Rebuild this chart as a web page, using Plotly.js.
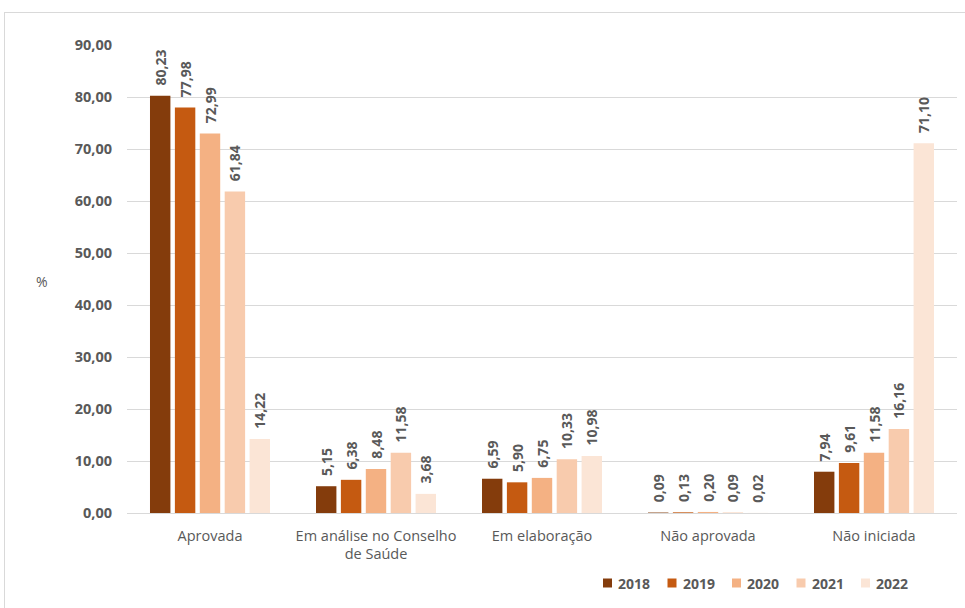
<!DOCTYPE html>
<html><head><meta charset="utf-8">
<script src="https://cdn.plot.ly/plotly-3.0.1.min.js"></script>
<style>
body{margin:0;background:#fff;}
#frame{position:absolute;left:4px;top:12px;width:970px;height:600px;border:1px solid #d9d9d9;box-sizing:border-box;pointer-events:none;z-index:5;}
#chart{position:absolute;left:0;top:0;width:965px;height:608px;}
</style></head>
<body>
<div id="chart"></div>
<div id="frame"></div>
<script>
const categories = ["Aprovada", "Em análise no Conselho<br>de Saúde", "Em elaboração", "Não aprovada", "Não iniciada"];
const years = ["2018", "2019", "2020", "2021", "2022"];
const v2018 = [80.23, 5.15, 6.59, 0.09, 7.94];
const v2019 = [77.98, 6.38, 5.90, 0.13, 9.61];
const v2020 = [72.99, 8.48, 6.75, 0.20, 11.58];
const v2021 = [61.84, 11.58, 10.33, 0.09, 16.16];
const v2022 = [14.22, 3.68, 10.98, 0.02, 71.10];
const colors = ["#843C0C", "#C55A11", "#F4B183", "#F8CBAD", "#FBE5D6"];
const series = [v2018, v2019, v2020, v2021, v2022];

const fontFam = '"Open Sans", "DejaVu Sans", sans-serif';
const W = 965, H = 608, ML = 127, MR = 8, MT = 45, MB = 95;
const PW = W - ML - MR, PH = H - MT - MB;

const traces = series.map((vals, i) => ({
  type: 'bar',
  name: years[i],
  x: categories,
  y: vals,
  marker: {color: colors[i]},
  text: vals.map(v => '\u00a0\u00a0' + v.toFixed(2).replace('.', ',')),
  textposition: 'outside',
  textangle: -90,
  constraintext: 'none',
  textfont: {family: fontFam, size: 14, color: '#595959', weight: 'bold'},
  cliponaxis: false,
  showlegend: false,
  hoverinfo: 'skip'
}));

// custom legend (Excel-like compact spacing)
const legX0 = 603, legStep = 64.5, legY = 583;
const px2x = px => (px - ML) / PW;
const py2y = py => (H - MB - py) / PH;
const shapes = years.map((yr, i) => ({
  type: 'rect', xref: 'paper', yref: 'paper',
  xsizemode: 'pixel', ysizemode: 'pixel',
  xanchor: px2x(legX0 + legStep * i), yanchor: py2y(legY),
  x0: 0, x1: 9, y0: -4.5, y1: 4.5,
  fillcolor: colors[i], line: {width: 0}
}));
const legendAnn = years.map((yr, i) => ({
  text: '<b>' + yr + '</b>', xref: 'paper', yref: 'paper',
  x: px2x(legX0 + legStep * i + 13), y: py2y(legY),
  xanchor: 'left', yanchor: 'middle', showarrow: false,
  font: {size: 14, color: '#595959', family: fontFam}
}));

const layout = {
  width: W, height: H,
  margin: {l: ML, r: MR, t: MT, b: MB},
  paper_bgcolor: '#fff', plot_bgcolor: '#fff',
  separators: ',.',
  barmode: 'group',
  bargap: 0.25,
  bargroupgap: 0.18,
  font: {family: fontFam, color: '#595959'},
  xaxis: {
    tickfont: {size: 14.5, color: '#595959', family: fontFam},
    showgrid: false, zeroline: false, showline: false, ticks: '',
    ticklabelstandoff: 12
  },
  yaxis: {
    range: [0, 90], dtick: 10, tickformat: '.2f',
    tickfont: {size: 14.5, color: '#595959', family: fontFam, weight: 'bold'},
    gridcolor: '#d9d9d9', gridwidth: 1, zeroline: true, zerolinecolor: '#d9d9d9',
    showline: false, ticks: '', ticklabelstandoff: 14
  },
  showlegend: false,
  shapes: shapes,
  annotations: [{
    text: '%', xref: 'paper', yref: 'paper', x: -0.112, y: 0.495, showarrow: false,
    font: {size: 14, color: '#595959', family: fontFam}
  }].concat(legendAnn)
};
Plotly.newPlot('chart', traces, layout, {displayModeBar: false, staticPlot: true});
</script>
</body></html>
